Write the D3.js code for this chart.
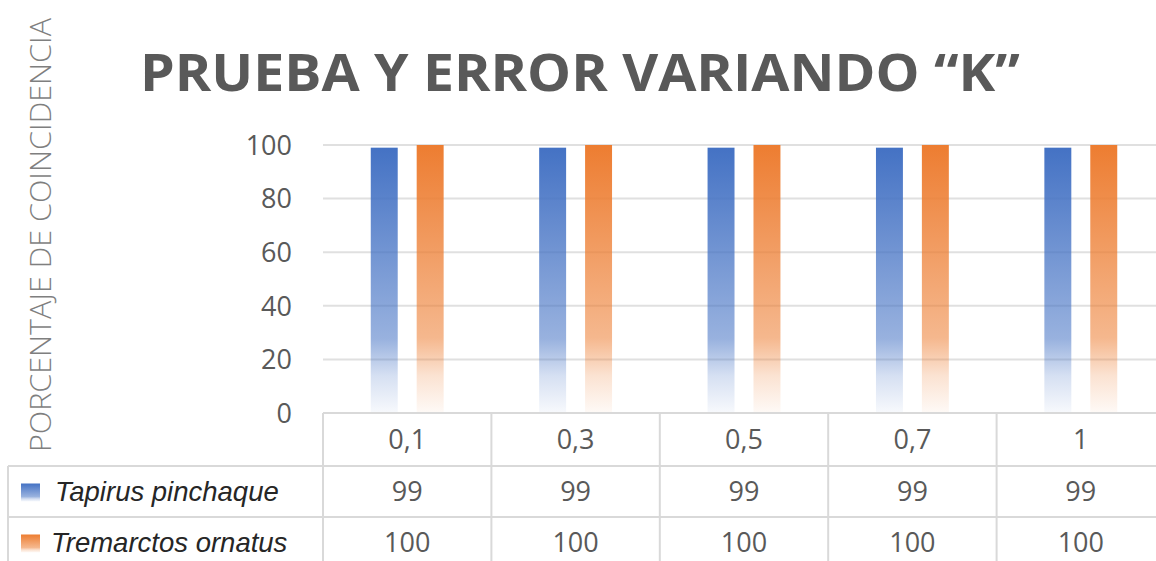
<!DOCTYPE html>
<meta charset="utf-8">
<title>Prueba y error variando K</title>
<style>
body { margin: 0; background: #fff; }
text { font-family: "Open Sans", "DejaVu Sans", sans-serif; }
</style>
<script src="https://d3js.org/d3.v7.min.js"></script>
<div id="chart"></div>
<script>

// data
var categories = ["0,1", "0,3", "0,5", "0,7", "1"];
var seriesNames = ["Tapirus pinchaque", "Tremarctos ornatus"];
var tapirus = [99, 99, 99, 99, 99];
var tremarctos = [100, 100, 100, 100, 100];
var yTicks = [0, 20, 40, 60, 80, 100];
var colors = ["#4472C4", "#ED7D31"];

var W = 1156, H = 561;
var plotLeft = 323, plotRight = 1165, plotTop = 145, plotBottom = 413;
var rowH = [53, 51, 51];

var svg = d3.select("#chart").append("svg")
  .attr("width", W).attr("height", H);

// gradients for the bars (Excel style fade to white)
var defs = svg.append("defs");
colors.forEach(function(c, i) {
  var g = defs.append("linearGradient")
    .attr("id", "grad" + i)
    .attr("x1", 0).attr("y1", 0).attr("x2", 0).attr("y2", 1);
  g.append("stop").attr("offset", "0%").attr("stop-color", c).attr("stop-opacity", 1);
  g.append("stop").attr("offset", "72%").attr("stop-color", c).attr("stop-opacity", 0.55);
  g.append("stop").attr("offset", "86%").attr("stop-color", c).attr("stop-opacity", 0.22);
  g.append("stop").attr("offset", "100%").attr("stop-color", c).attr("stop-opacity", 0.04);
});

var x = d3.scaleBand().domain(categories).range([plotLeft, plotRight]);
var xSub = d3.scaleBand().domain([0, 1]).range([0, x.bandwidth()])
  .paddingInner(0.413).paddingOuter(1.04);
var y = d3.scaleLinear().domain([0, 100]).range([plotBottom, plotTop]);

// title
svg.append("text")
  .attr("x", 580).attr("y", 91)
  .attr("text-anchor", "middle")
  .attr("textLength", 880).attr("lengthAdjust", "spacingAndGlyphs")
  .style("font-size", "52px").style("font-weight", 700)
  .style("fill", "#595959")
  .text("PRUEBA Y ERROR VARIANDO \u201CK\u201D");

// y axis title
svg.append("text")
  .attr("transform", "translate(51,235) rotate(-90)")
  .attr("text-anchor", "middle")
  .attr("textLength", 434).attr("lengthAdjust", "spacingAndGlyphs")
  .style("font-size", "29px").style("font-weight", 300)
  .style("fill", "#7f7f7f")
  .text("PORCENTAJE DE COINCIDENCIA");

// gridlines
svg.append("g").selectAll("line").data(yTicks.filter(function(d) { return d > 0; }))
  .enter().append("line")
  .attr("x1", plotLeft).attr("x2", plotRight)
  .attr("y1", function(d) { return y(d); }).attr("y2", function(d) { return y(d); })
  .attr("stroke", "#e0e0e0").attr("stroke-width", 2);

// y tick labels
svg.append("g").selectAll("text").data(yTicks)
  .enter().append("text")
  .attr("x", 292).attr("y", function(d) { return y(d); })
  .attr("dy", "0.36em")
  .attr("text-anchor", "end")
  .style("font-size", "27px").style("fill", "#595959")
  .text(function(d) { return d; });

// bars
var series = [tapirus, tremarctos];
series.forEach(function(vals, si) {
  svg.append("g").selectAll("rect").data(vals)
    .enter().append("rect")
    .attr("x", function(d, i) { return x(categories[i]) + xSub(si); })
    .attr("width", xSub.bandwidth())
    .attr("y", function(d) { return y(d); })
    .attr("height", function(d) { return plotBottom - y(d); })
    .attr("fill", "url(#grad" + si + ")");
});

// data table
var tbl = svg.append("g").attr("stroke", "#d9d9d9").attr("stroke-width", 2);
var r0 = plotBottom, r1 = r0 + rowH[0], r2 = r1 + rowH[1], r3 = r2 + rowH[2];
tbl.append("line").attr("x1", plotLeft).attr("x2", plotRight).attr("y1", r0).attr("y2", r0);
tbl.append("line").attr("x1", 8).attr("x2", plotRight).attr("y1", r1).attr("y2", r1);
tbl.append("line").attr("x1", 8).attr("x2", plotRight).attr("y1", r2).attr("y2", r2);
tbl.append("line").attr("x1", 8).attr("x2", 8).attr("y1", r1).attr("y2", r3);
tbl.selectAll(".vcol").data(categories).enter().append("line")
  .attr("x1", function(d) { return x(d); }).attr("x2", function(d) { return x(d); })
  .attr("y1", r0).attr("y2", r3);

// header row
svg.append("g").selectAll("text").data(categories)
  .enter().append("text")
  .attr("x", function(d) { return x(d) + x.bandwidth() / 2; })
  .attr("y", (r0 + r1) / 2).attr("dy", "0.36em")
  .attr("text-anchor", "middle")
  .style("font-size", "27px").style("fill", "#595959")
  .text(function(d) { return d; });

// value rows with legend keys
var rowMid = [(r1 + r2) / 2, (r2 + r3) / 2];
series.forEach(function(vals, si) {
  svg.append("rect")
    .attr("x", 21).attr("y", rowMid[si] - 8)
    .attr("width", 19).attr("height", 18)
    .attr("fill", "url(#grad" + si + ")");
  svg.append("text")
    .attr("x", si === 0 ? 55 : 51).attr("y", rowMid[si]).attr("dy", "0.36em")
    .style("font-family", "'Liberation Sans', Arial, sans-serif")
    .style("font-style", "italic").style("font-size", "27.5px")
    .style("fill", "#262626")
    .text(seriesNames[si]);
  svg.append("g").selectAll("text").data(vals)
    .enter().append("text")
    .attr("x", function(d, i) { return x(categories[i]) + x.bandwidth() / 2; })
    .attr("y", rowMid[si]).attr("dy", "0.36em")
    .attr("text-anchor", "middle")
    .style("font-size", "27px").style("fill", "#595959")
    .text(function(d) { return d; });
});

</script>
